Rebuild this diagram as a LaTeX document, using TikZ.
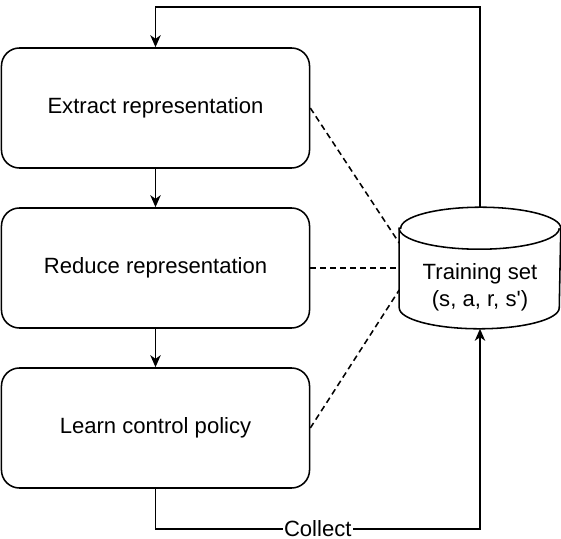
\documentclass[tikz,border=0pt]{standalone}
\usepackage{fontspec}
\setmainfont{Liberation Sans}
\usetikzlibrary{arrows.meta}
\begin{document}
\begin{tikzpicture}[x=0.025cm,y=-0.025cm,line width=1.1pt,
    myFont/.style={font=\fontsize{15.7}{19.2}\selectfont},
    myBox/.style={draw,rounded corners=0.45cm,minimum width=7.7cm,minimum height=3cm,myFont},
    cylBox/.style={minimum width=4cm,minimum height=3cm,inner sep=0pt},
    myArrow/.style={-{Stealth[length=0.3cm,width=0.26cm,inset=0.09cm]}},
    myDash/.style={dash pattern=on 0.15cm off 0.1cm}]
    \useasboundingbox (0,0) rectangle (561,539);
    \node[myBox] (extract) at (155.5,108) {Extract representation};
    \node[myBox] (reduce) at (155.5,268) {Reduce representation};
    \node[myBox] (learn) at (155.5,428) {Learn control policy};
    \node[cylBox] (train) at (480,268) {};
    \draw ([yshift=-0.525cm]train.north west) -- ([yshift=0.525cm]train.south west)
        arc[start angle=180,end angle=360,x radius=2cm,y radius=0.525cm]
        -- ([yshift=-0.525cm]train.north east)
        arc[start angle=0,end angle=180,x radius=2cm,y radius=0.525cm] -- cycle;
    \draw ([yshift=-0.525cm]train.north west) arc[start angle=180,end angle=360,x radius=2cm,y radius=0.525cm];
    \node[myFont,align=center] (trainText) at ([yshift=-0.49cm]train.center) {Training set\\(s, a, r, s\textquotesingle)};
    \draw[myArrow] (extract) -- (reduce);
    \draw[myArrow] (reduce) -- (learn);
    \draw[myArrow] (train.north) -- ++(0,-200) -| (extract.north);
    \draw[myArrow] (learn.south) -- ++(0,40) -| (train.south)
        node[pos=0.25,fill=white,inner xsep=1pt,inner ysep=0pt,myFont] {Collect};
    \draw[myDash] (extract.east) -- ([yshift=0.625cm]train.west);
    \draw[myDash] (reduce.east) -- (train.west);
    \draw[myDash] (learn.east) -- ([yshift=-0.55cm]train.west);
\end{tikzpicture}
\end{document}
